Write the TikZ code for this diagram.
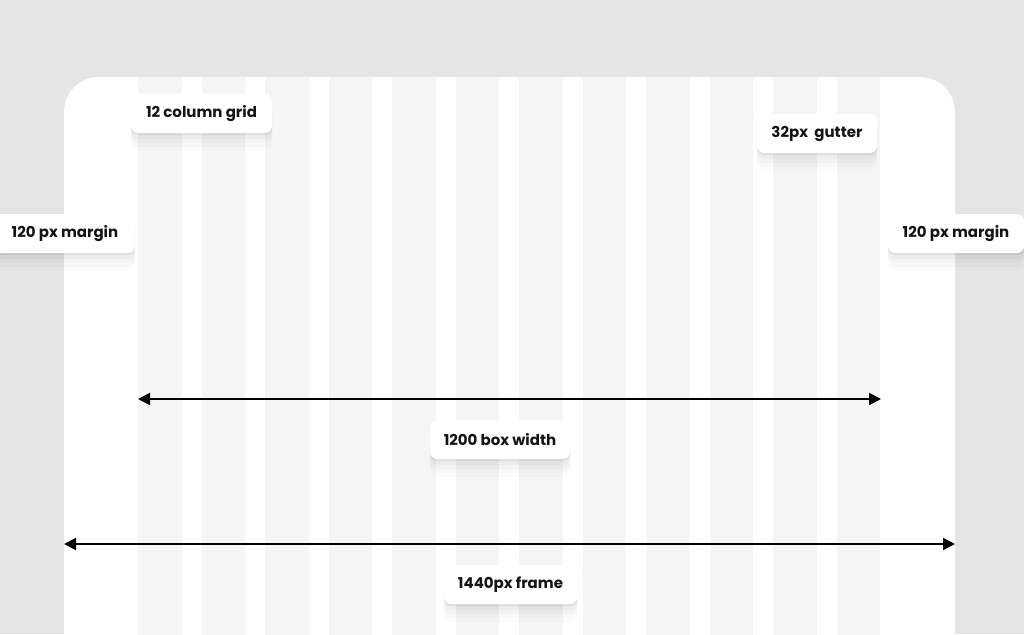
\documentclass[tikz,border=0pt]{standalone}
\usepackage{fontspec}
\setmainfont{Poppins}
\usepackage{tikz}
\usetikzlibrary{positioning,calc,arrows.meta,shadows}
\definecolor{bggray}{HTML}{E5E5E5}
\definecolor{colgray}{HTML}{F5F5F5}
\tikzset{
	softshadow/.style={
		general shadow={shadow xshift=0pt,shadow yshift=-2pt,opacity=0.06,fill=black},
		general shadow={shadow xshift=0pt,shadow yshift=-6pt,xscale=1.02,opacity=0.025,fill=black},
		general shadow={shadow xshift=0pt,shadow yshift=-10pt,xscale=1.04,opacity=0.02,fill=black},
		general shadow={shadow xshift=0pt,shadow yshift=-14pt,xscale=1.06,opacity=0.015,fill=black},
		general shadow={shadow xshift=0pt,shadow yshift=-18pt,xscale=1.08,opacity=0.01,fill=black}},
	lbl/.style={fill=white,rounded corners=7pt,minimum height=39pt,inner xsep=0pt,
		font=\bfseries\fontsize{15pt}{17pt}\selectfont,text=black!92,softshadow},
	dim/.style={line width=2pt,{Triangle[length=12pt,width=12pt]}-{Triangle[length=12pt,width=12pt]}}
}

\begin{document}
\begin{tikzpicture}[x=1pt,y=-1pt]
	\def\colW{43.5};
	\def\gut{20};
	\def\gx{138};
\useasboundingbox (0,0) rectangle (1024,634);
\clip (0,0) rectangle (1024,634);
\fill[bggray] (0,0) rectangle (1024,634);

%Cadre
\fill[white,rounded corners=35pt] (64,700) -- (64,77) -- (955,77) -- (955,700);

%Colonnes
\foreach \i in {0,...,11}
	\fill[colgray] ({\gx+\i*(\colW+\gut)},77) rectangle +(\colW,600);

%Points des cotes
\coordinate (boxL) at (138,399);
\coordinate (boxR) at (881,399);
\coordinate (frameL) at (64,544);
\coordinate (frameR) at (955,544);

%Cotes
\draw[dim] (boxL) -- (boxR);
\draw[dim] (frameL) -- (frameR);

%Etiquettes
\node[lbl,minimum width=141pt] (lblgrid) at (201.5,113.5) {12 column grid};
\node[lbl,minimum width=120pt] (lblgutter) at (817,133.5) {32px\ \ gutter};
\node[lbl,minimum width=140pt] (lblmarginL) at (65,233.5) {120 px margin};
\node[lbl,minimum width=136pt] (lblmarginR) at (956,233.5) {120 px margin};
\node[lbl,minimum width=140pt] (lblbox) at (500,439.5) {1200 box width};
\node[lbl,minimum width=133pt] (lblframe) at (510.5,584.5) {1440px frame};

\end{tikzpicture}
\end{document}
